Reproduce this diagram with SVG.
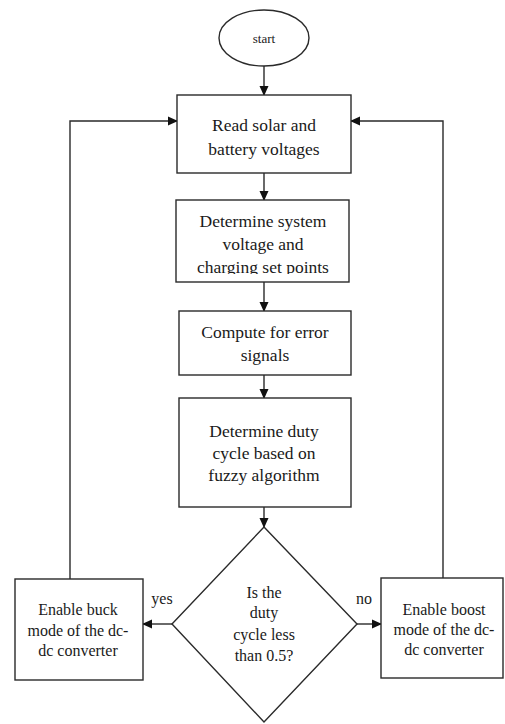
<svg xmlns="http://www.w3.org/2000/svg" width="505" height="724" viewBox="0 0 505 724">
<style>
.s{fill:#fff;stroke:#2a2a2a;stroke-width:1.4}
.c{fill:none;stroke:#2a2a2a;stroke-width:1.4}
text{fill:#1a1a1a;text-anchor:middle}
.m{font-size:17.5px}
.n{font-size:16px}
</style>
<defs>
<marker id="ah" markerWidth="10" markerHeight="10" refX="9" refY="5" orient="auto" markerUnits="userSpaceOnUse">
<path d="M0,0.5 L10,5 L0,9.5 Z" fill="#111"/>
</marker>
<clipPath id="clip2"><rect x="176" y="200" width="173" height="74"/></clipPath>
</defs>
<rect width="505" height="724" fill="#fff"/>
<g font-family="Liberation Serif, Times New Roman, DejaVu Serif, serif">
<g id="connectors">
<line class="c" x1="264" y1="66" x2="264" y2="95" marker-end="url(#ah)"/>
<line class="c" x1="264" y1="173" x2="264" y2="200" marker-end="url(#ah)"/>
<line class="c" x1="264" y1="282" x2="264" y2="311" marker-end="url(#ah)"/>
<line class="c" x1="264" y1="375" x2="264" y2="398" marker-end="url(#ah)"/>
<line class="c" x1="264" y1="507" x2="264" y2="527" marker-end="url(#ah)"/>
<line class="c" x1="172" y1="624" x2="143" y2="624" marker-end="url(#ah)"/>
<line class="c" x1="357" y1="624" x2="381" y2="624" marker-end="url(#ah)"/>
<polyline class="c" points="70,579 70,121 177,121" marker-end="url(#ah)"/>
<polyline class="c" points="443,578 443,121 351,121" marker-end="url(#ah)"/>
<text class="n" x="162" y="604">yes</text>
<text class="n" x="364" y="604">no</text>
</g>
<g id="start">
<ellipse class="s" cx="264" cy="38" rx="45" ry="28"/>
<text style="font-size:13px" x="264" y="43">start</text>
</g>
<g id="read">
<rect class="s" x="177" y="95" width="174" height="78"/>
<text class="m" x="264" y="131">Read solar and</text>
<text class="m" x="264" y="155">battery voltages</text>
</g>
<g id="determine-system">
<rect class="s" x="176" y="200" width="173" height="82"/>
<g clip-path="url(#clip2)">
<text class="m" x="263" y="227">Determine system</text>
<text class="m" x="263" y="250">voltage and</text>
<text class="m" x="263" y="273">charging set points</text>
</g>
</g>
<g id="compute">
<rect class="s" x="179" y="311" width="172" height="64"/>
<text class="m" x="265" y="338">Compute for error</text>
<text class="m" x="265" y="361">signals</text>
</g>
<g id="duty">
<rect class="s" x="179" y="398" width="172" height="109"/>
<text class="m" x="264" y="437">Determine duty</text>
<text class="m" x="264" y="459">cycle based on</text>
<text class="m" x="264" y="481">fuzzy algorithm</text>
</g>
<g id="decision">
<polygon class="s" points="264,527 357,624 264,722 172,624"/>
<text class="n" x="264" y="598">Is the</text>
<text class="n" x="264" y="618">duty</text>
<text class="n" x="264" y="640">cycle less</text>
<text class="n" x="264" y="661">than 0.5?</text>
</g>
<g id="buck">
<rect class="s" x="15" y="579" width="128" height="101"/>
<text class="n" x="78" y="615">Enable buck</text>
<text class="n" x="78" y="636">mode of the dc-</text>
<text class="n" x="78" y="656">dc converter</text>
</g>
<g id="boost">
<rect class="s" x="381" y="578" width="122" height="100"/>
<text class="n" x="444" y="615">Enable boost</text>
<text class="n" x="444" y="635">mode of the dc-</text>
<text class="n" x="444" y="655">dc converter</text>
</g>
</g>
</svg>
